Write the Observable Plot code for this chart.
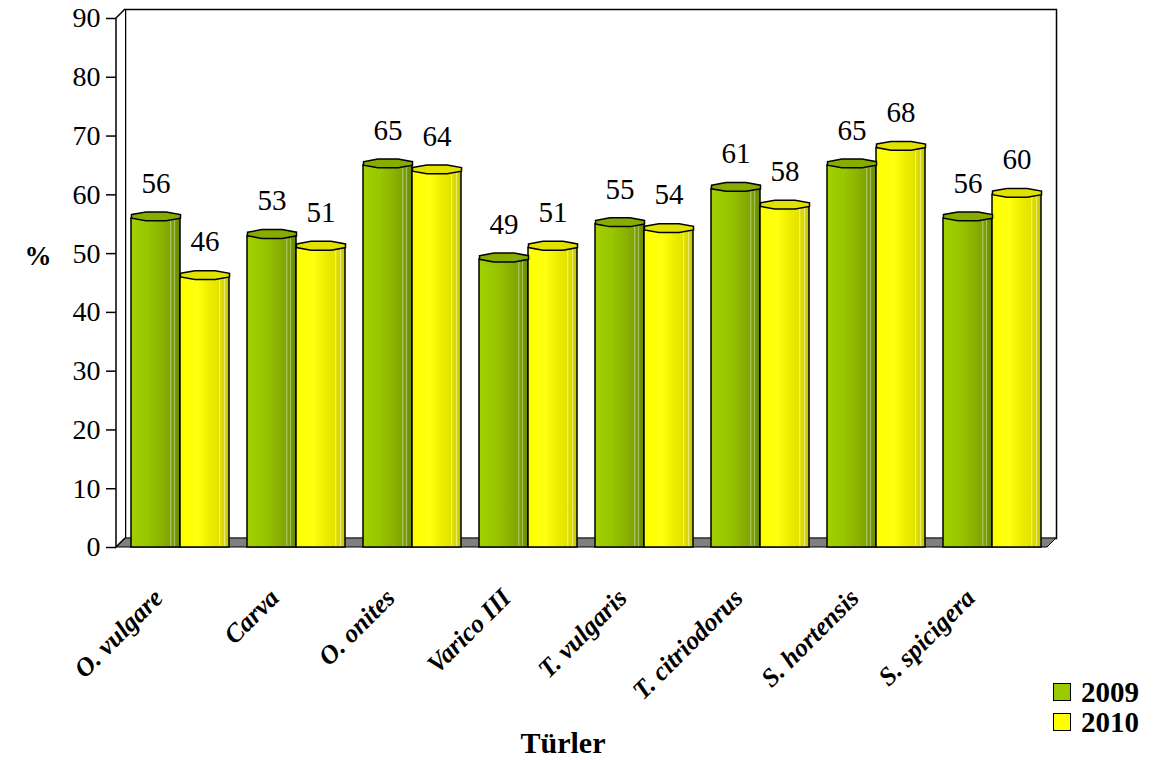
<!DOCTYPE html>
<html>
<head>
<meta charset="utf-8">
<script src="https://cdn.jsdelivr.net/npm/d3@7"></script>
<script src="https://cdn.jsdelivr.net/npm/@observablehq/plot@0.6"></script>
<style>
  html, body { margin: 0; padding: 0; background: #fff; }
  #wrap { position: relative; width: 1159px; height: 760px; font-family: "Liberation Serif", "Times New Roman", serif; }
  #legend { position: absolute; left: 1053px; top: 677px; font-weight: bold; font-size: 29px; line-height: 30px; color: #000; }
  #legend .row { display: flex; align-items: center; }
  #legend .sw { width: 16px; height: 16px; border: 1.5px solid #000; margin-right: 10px; }
  #chart svg text { font-family: "Liberation Serif", "Times New Roman", serif; }
</style>
</head>
<body>
<div id="wrap"><div id="chart"></div><div id="legend"></div></div>
<script>
// Germination rate (%) per species, two seasons
const categories = ["O. vulgare", "Carva", "O. onites", "Varico III", "T. vulgaris", "T. citriodorus", "S. hortensis", "S. spicigera"];
const years = ["2009", "2010"];
const values2009 = [56, 53, 65, 49, 55, 61, 65, 56];
const values2010 = [46, 51, 64, 51, 54, 58, 68, 60];
const yTicks = [0, 10, 20, 30, 40, 50, 60, 70, 80, 90];
const swatch = {"2009": "#99cc00", "2010": "#ffff00"};
const capFill = {"2009": "#86ac00", "2010": "#e2e200"};

const rows2009 = categories.map((cat, i) => ({cat, year: "2009", value: values2009[i]}));
const rows2010 = categories.map((cat, i) => ({cat, year: "2010", value: values2010[i]}));

const W = 1159, H = 760;
const mL = 116, mR = 112, mT = 18, mB = 213;
const depth = 9;       // receding depth of walls and floor
const half = 49;       // width of one column inside a pair

// flattened octagon drawn on top of each column
const capSymbol = {
  draw(ctx) {
    const a = 24.5, b = 10.1, t = 1.8, u = 4.4, c = -2;
    ctx.moveTo(-a, c - t);
    ctx.lineTo(-b, c - u);
    ctx.lineTo(b, c - u);
    ctx.lineTo(a, c - t);
    ctx.lineTo(a, c + t);
    ctx.lineTo(b, c + u);
    ctx.lineTo(-b, c + u);
    ctx.lineTo(-a, c + t);
    ctx.closePath();
  }
};

const serif = "Liberation Serif, Times New Roman, serif";

const chart = Plot.plot({
  width: W,
  height: H,
  marginLeft: mL,
  marginRight: mR,
  marginTop: mT,
  marginBottom: mB,
  style: {fontFamily: serif, color: "#000", background: "#fff", overflow: "visible"},
  x: {domain: categories, range: [121, 1051], paddingInner: 0.155, paddingOuter: 0.0775, axis: null},
  y: {domain: [0, 90], axis: null},
  marks: [
    // back wall
    Plot.frame({dx: depth, dy: -depth, fill: "#fff", stroke: "#000", strokeWidth: 1.5}),
    Plot.axisY({ticks: yTicks, tickSize: 10, tickPadding: 6, fontSize: 28, strokeWidth: 1.5, label: null, fontFamily: serif}),
    Plot.barY(rows2009, {x: "cat", y: "value", insetRight: half, fill: "url(#grad2009)", stroke: "#000", strokeWidth: 1.5}),
    Plot.barY(rows2010, {x: "cat", y: "value", insetLeft: half, fill: "url(#grad2010)", stroke: "#000", strokeWidth: 1.5}),
    Plot.dot(rows2009, {x: "cat", y: "value", dx: -half / 2, symbol: capSymbol, r: 5, fill: capFill["2009"], stroke: "#000", strokeWidth: 1.5}),
    Plot.dot(rows2010, {x: "cat", y: "value", dx: half / 2, symbol: capSymbol, r: 5, fill: capFill["2010"], stroke: "#000", strokeWidth: 1.5}),
    Plot.text(rows2009, {x: "cat", y: "value", text: d => String(d.value), dx: -half / 2, dy: -35, fontSize: 29, fontFamily: serif}),
    Plot.text(rows2010, {x: "cat", y: "value", text: d => String(d.value), dx: half / 2, dy: -35, fontSize: 29, fontFamily: serif}),
    Plot.text(categories, {x: d => d, frameAnchor: "bottom", dx: -16, dy: 52, rotate: -45, textAnchor: "end", lineAnchor: "bottom", fontSize: 26, fontWeight: "bold", fontStyle: "italic", fontFamily: serif}),
    Plot.text(["%"], {frameAnchor: "left", dx: -92, dy: -27, fontSize: 27, fontWeight: "bold", fontFamily: serif}),
    Plot.text(["Türler"], {frameAnchor: "bottom", dx: -19, dy: 205, fontSize: 30, fontWeight: "bold", fontFamily: serif})
  ]
});

document.getElementById("chart").appendChild(chart);

// gradients for the column faces
const svg = d3.select(chart);
const defs = svg.insert("defs", ":first-child");
const gradStops = {
  "2009": [[0, "#a2d000"], [0.35, "#98c600"], [0.6, "#8cb400"], [0.8, "#7fa400"], [0.81, "#c0d890"], [0.83, "#7fa400"], [0.88, "#789c00"], [0.89, "#b0c880"], [0.91, "#749600"], [1, "#6a8a00"]],
  "2010": [[0, "#ffff00"], [0.35, "#ffff10"], [0.6, "#eeee00"], [0.8, "#e2e200"], [0.81, "#f8f8a0"], [0.83, "#dede00"], [0.9, "#d8d800"], [0.91, "#f0f090"], [0.93, "#d4d400"], [1, "#c4c400"]]
};
for (const yr of years) {
  const g = defs.append("linearGradient").attr("id", "grad" + yr).attr("x1", 0).attr("x2", 1).attr("y1", 0).attr("y2", 0);
  for (const [o, c] of gradStops[yr]) g.append("stop").attr("offset", o).attr("stop-color", c);
}

// floor and front-left edge of the box, placed from the y scale
const y = chart.scale("y");
const y0 = y.apply(0), yTop = y.apply(90);
const left = mL, right = W - mR;
const deco = svg.insert("g", "g[aria-label='bar']");
deco.append("path")
  .attr("d", `M${left},${y0}L${right},${y0}L${right + depth},${y0 - depth}L${left + depth},${y0 - depth}Z`)
  .attr("fill", "#808080").attr("stroke", "#000").attr("stroke-width", 1);
deco.append("path")
  .attr("d", `M${left + depth},${yTop - depth}L${left},${yTop}L${left},${y0}L${left + depth},${y0 - depth}`)
  .attr("fill", "#fff").attr("stroke", "#000").attr("stroke-width", 1.5);

// legend
const legend = d3.select("#legend");
for (const yr of years) {
  const row = legend.append("div").attr("class", "row");
  row.append("div").attr("class", "sw").style("background", swatch[yr]);
  row.append("span").text(yr);
}
</script>
</body>
</html>
